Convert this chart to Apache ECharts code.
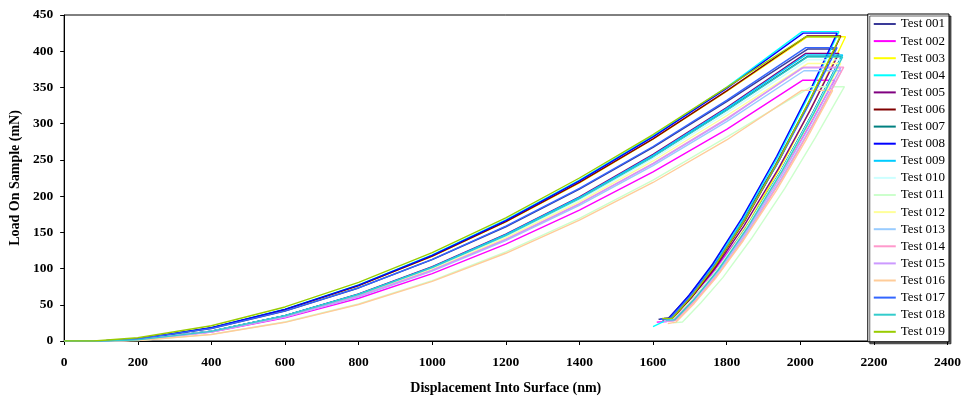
<!DOCTYPE html>
<html><head><meta charset="utf-8">
<script src="https://cdn.jsdelivr.net/npm/echarts@6/dist/echarts.min.js"></script>
<style>html,body{margin:0;padding:0;background:#fff}#c{width:964px;height:400px}</style>
</head><body><div id="c"></div>
<script>
const xTitle = 'Displacement Into Surface (nm)';
const yTitle = 'Load On Sample (mN)';
const testNames = ['Test 001','Test 002','Test 003','Test 004','Test 005','Test 006','Test 007','Test 008','Test 009','Test 010','Test 011','Test 012','Test 013','Test 014','Test 015','Test 016','Test 017','Test 018','Test 019'];
const testColors = ['#3a3a98','#ff00ff','#ffff00','#00ffff','#800080','#800000','#008080','#0000ff','#00ccff','#ccffff','#ccffcc','#ffff99','#99ccff','#ff99cc','#cc99ff','#ffcc99','#3366ff','#33cccc','#99cc00'];

const test001 = [[0,0],[100,0],[200,2.7],[400,17.3],[600,41.3],[800,73.2],[1000,112.2],[1200,157.7],[1400,209.6],[1600,267.2],[1800,330.5],[2020,403],[2095,403],[2016,322.4],[1931,241.8],[1837,161.2],[1757,100.8],[1694,60.5],[1639,30.2],[1615,30]];
const test002 = [[0,0],[120,0],[200,1.3],[400,12.2],[600,31.9],[800,59.0],[1000,93.1],[1200,133.7],[1400,180.6],[1600,233.5],[1800,292.2],[2007,360],[2093,360],[2014,288],[1929,216],[1835,144],[1755,90],[1692,54],[1637,27],[1610,26]];
const test003 = [[0,0],[100,0],[200,2.8],[400,18.1],[600,43.1],[800,76.3],[1000,116.9],[1200,164.4],[1400,218.4],[1600,278.5],[1800,344.4],[2020,420],[2123,420],[2044,336],[1959,252],[1865,168],[1785,105],[1722,63],[1667,31.5],[1640,30]];
const test004 = [[0,0],[100,0],[200,2.8],[400,18.4],[600,43.8],[800,77.5],[1000,118.8],[1200,167.1],[1400,222.0],[1600,283.1],[1800,350.1],[2005,427],[2105,427],[2026,341.6],[1941,256.2],[1847,170.8],[1767,106.8],[1704,64.1],[1649,32],[1600,20]];
const test005 = [[0,0],[120,0],[200,1.5],[400,13.5],[600,35.1],[800,65.0],[1000,102.6],[1200,147.4],[1400,199.1],[1600,257.5],[1800,322.3],[2015,397],[2105,397],[2026,317.6],[1941,238.2],[1847,158.8],[1767,99.3],[1704,59.6],[1649,29.8],[1625,29]];
const test006 = [[0,0],[100,0],[200,2.8],[400,18.1],[600,43.2],[800,76.5],[1000,117.2],[1200,164.8],[1400,218.9],[1600,279.1],[1800,345.2],[2018,421],[2110,421],[2031,336.8],[1946,252.6],[1852,168.4],[1772,105.3],[1709,63.2],[1654,31.6],[1630,31]];
const test007 = [[0,0],[120,0],[200,1.5],[400,13.4],[600,34.8],[800,64.4],[1000,101.6],[1200,146.0],[1400,197.1],[1600,254.9],[1800,319.0],[2020,393],[2112,393],[2033,314.4],[1948,235.8],[1854,157.2],[1774,98.3],[1711,59],[1656,29.5],[1630,29]];
const test008 = [[0,0],[100,0],[200,2.8],[400,18.3],[600,43.6],[800,77.2],[1000,118.3],[1200,166.3],[1400,221.0],[1600,281.8],[1800,348.5],[2008,425],[2100,425],[2021,340],[1936,255],[1842,170],[1762,106.3],[1699,63.8],[1644,31.9],[1620,30]];
const test009 = [[0,0],[120,0],[200,1.5],[400,13.4],[600,35.0],[800,64.7],[1000,102.1],[1200,146.7],[1400,198.1],[1600,256.2],[1800,320.7],[2015,395],[2115,395],[2036,316],[1951,237],[1857,158],[1777,98.8],[1714,59.3],[1659,29.6],[1630,30]];
const test010 = [[0,0],[120,0],[200,1.4],[400,13.2],[600,34.3],[800,63.6],[1000,100.3],[1200,144.1],[1400,194.6],[1600,251.7],[1800,315.0],[2020,388],[2110,388],[2031,310.4],[1946,232.8],[1852,155.2],[1772,97],[1709,58.2],[1654,29.1],[1630,29]];
const test011 = [[0,0],[140,0],[200,0.6],[400,9.1],[600,26.2],[800,51.1],[1000,83.4],[1200,122.9],[1400,169.2],[1600,222.0],[1800,281.5],[2030,351],[2120,351],[2041,280.8],[1958,210.6],[1866,140.4],[1790,87.8],[1730,52.7],[1680,26.3],[1655,25]];
const test012 = [[0,0],[120,0],[200,1.4],[400,13.0],[600,33.9],[800,62.7],[1000,99.0],[1200,142.2],[1400,192.1],[1600,248.5],[1800,310.9],[2020,383],[2110,383],[2031,306.4],[1946,229.8],[1852,153.2],[1772,95.8],[1709,57.5],[1654,28.7],[1630,28]];
const test013 = [[0,0],[120,0],[200,1.4],[400,12.7],[600,33.0],[800,61.1],[1000,96.4],[1200,138.5],[1400,187.1],[1600,242.0],[1800,302.8],[2010,373],[2112,373],[2033,298.4],[1948,223.8],[1854,149.2],[1774,93.3],[1711,56],[1656,28],[1632,28]];
const test014 = [[0,0],[120,0],[200,1.4],[400,12.9],[600,33.5],[800,61.9],[1000,97.7],[1200,140.4],[1400,189.6],[1600,245.2],[1800,306.9],[2010,378],[2118,378],[2039,302.4],[1954,226.8],[1860,151.2],[1780,94.5],[1717,56.7],[1662,28.4],[1640,27]];
const test015 = [[0,0],[120,0],[200,1.4],[400,12.8],[600,33.4],[800,61.8],[1000,97.5],[1200,140.0],[1400,189.1],[1600,244.6],[1800,306.0],[2005,377],[2110,377],[2031,301.6],[1946,226.2],[1852,150.8],[1772,94.3],[1709,56.6],[1654,28.3],[1630,28]];
const test016 = [[0,0],[140,0],[200,0.6],[400,9.0],[600,25.8],[800,50.4],[1000,82.2],[1200,121.1],[1400,166.8],[1600,218.8],[1800,277.5],[2004,346],[2088,346],[2015,276.8],[1935,207.6],[1845,138.4],[1770,86.5],[1712,51.9],[1662,26],[1640,24]];
const test017 = [[0,0],[100,0],[200,2.7],[400,17.4],[600,41.5],[800,73.5],[1000,112.7],[1200,158.5],[1400,210.6],[1600,268.5],[1800,332.1],[2015,405],[2100,405],[2021,324],[1936,243],[1842,162],[1762,101.3],[1699,60.8],[1644,30.4],[1620,30]];
const test018 = [[0,0],[120,0],[200,1.5],[400,13.3],[600,34.7],[800,64.2],[1000,101.3],[1200,145.6],[1400,196.6],[1600,254.3],[1800,318.2],[2020,392],[2115,392],[2036,313.6],[1951,235.2],[1857,156.8],[1777,98],[1714,58.8],[1659,29.4],[1635,29]];
const test019 = [[0,0],[80,0],[200,4.5],[400,21],[600,47],[800,81],[1000,122],[1200,170],[1400,225],[1600,285],[1800,350],[2015,420],[2108,420],[2029,336],[1944,252],[1850,168],[1770,105],[1707,63],[1652,31.5],[1625,31]];

const allTests = [test001,test002,test003,test004,test005,test006,test007,test008,test009,test010,test011,test012,test013,test014,test015,test016,test017,test018,test019];

const font = 'Liberation Serif, Times New Roman, serif';
const chart = echarts.init(document.getElementById('c'), null, {renderer:'canvas'});
chart.setOption({
  animation: false,
  backgroundColor: '#fff',
  grid: {left: 63, right: 16, top: 15, bottom: 59, show: true, borderColor: '#000', borderWidth: 1, backgroundColor: 'transparent'},
  xAxis: {
    type: 'value', min: 0, max: 2400, interval: 200,
    name: xTitle, nameLocation: 'middle', nameGap: 40,
    nameTextStyle: {fontFamily: font, fontWeight: 'bold', fontSize: 14, color: '#000'},
    axisLine: {show: true, onZero: false, lineStyle: {color: '#000', width: 1}},
    axisTick: {show: true, inside: false, length: 4, lineStyle: {color: '#000'}},
    axisLabel: {fontFamily: font, fontWeight: 'bold', fontSize: 13.5, color: '#000', margin: 15, formatter: v => String(v)},
    splitLine: {show: false}
  },
  yAxis: {
    type: 'value', min: 0, max: 450, interval: 50,
    name: yTitle, nameLocation: 'middle', nameGap: 35, nameRotate: 90,
    nameTextStyle: {fontFamily: font, fontWeight: 'bold', fontSize: 14, color: '#000'},
    axisLine: {show: true, lineStyle: {color: '#000', width: 1}},
    axisTick: {show: true, inside: false, length: 4, lineStyle: {color: '#000'}},
    axisLabel: {fontFamily: font, fontWeight: 'bold', fontSize: 13.5, color: '#000', margin: 11, formatter: v => String(v)},
    splitLine: {show: false}
  },
  legend: {
    orient: 'vertical', right: 15, top: 14,
    padding: [3, 4, 3, 6], itemGap: 3.1, itemWidth: 22, itemHeight: 2, icon: 'rect',
    backgroundColor: '#fff', borderColor: '#000', borderWidth: 1,
    shadowColor: 'rgba(0,0,0,0.6)', shadowOffsetX: 2, shadowOffsetY: 2, shadowBlur: 0,
    textStyle: {fontFamily: font, fontSize: 13, color: '#000', lineHeight: 14},
    data: testNames
  },
  series: allTests.map((d, i) => ({
    name: testNames[i], type: 'line', data: d, showSymbol: false, symbol: 'none',
    color: testColors[i],
    lineStyle: {width: 1.4, color: testColors[i]},
    itemStyle: {color: testColors[i]}
  }))
});
</script></body></html>
